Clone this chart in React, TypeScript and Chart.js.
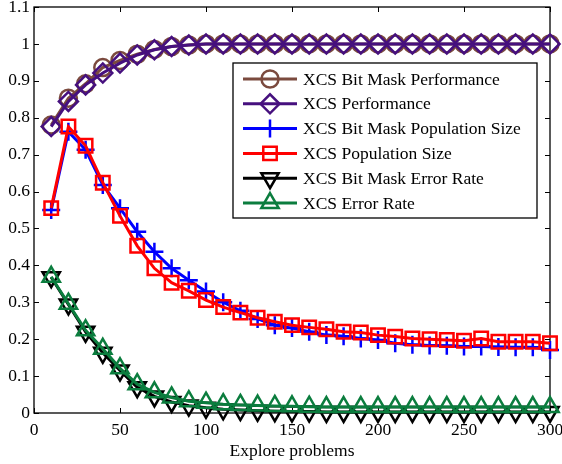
import { useEffect, useRef } from "react";
import { Chart, registerables } from "chart.js";

Chart.register(...registerables);

// Explore problems (x) at which each run was sampled
const explore = [
  10, 20, 30, 40, 50, 60, 70, 80, 90, 100,
  110, 120, 130, 140, 150, 160, 170, 180, 190, 200,
  210, 220, 230, 240, 250, 260, 270, 280, 290, 300,
];

const bmPerformance = [
  0.78, 0.853, 0.892, 0.936, 0.955, 0.972, 0.985, 0.993, 0.997, 1.0,
  1.0, 1.0, 1.0, 1.0, 1.0, 1.0, 1.0, 1.0, 1.0, 1.0,
  1.0, 1.0, 1.0, 1.0, 1.0, 1.0, 1.0, 1.0, 1.0, 1.0,
];

const xcsPerformance = [
  0.776, 0.844, 0.889, 0.921, 0.948, 0.97, 0.984, 0.993, 0.997, 1.0,
  1.0, 1.0, 1.0, 1.0, 1.0, 1.0, 1.0, 1.0, 1.0, 1.0,
  1.0, 1.0, 1.0, 1.0, 1.0, 1.0, 1.0, 1.0, 1.0, 1.0,
];

const bmPopulation = [
  0.55, 0.762, 0.713, 0.618, 0.555, 0.491, 0.437, 0.392, 0.36, 0.329,
  0.3, 0.277, 0.255, 0.238, 0.23, 0.22, 0.211, 0.208, 0.202, 0.198,
  0.189, 0.185, 0.183, 0.182, 0.18, 0.18, 0.179, 0.178, 0.178, 0.171,
];

const xcsPopulation = [
  0.555, 0.776, 0.724, 0.624, 0.534, 0.453, 0.392, 0.353, 0.331, 0.306,
  0.287, 0.272, 0.258, 0.247, 0.238, 0.232, 0.227, 0.22, 0.218, 0.211,
  0.207, 0.202, 0.2, 0.198, 0.196, 0.202, 0.193, 0.193, 0.193, 0.189,
];

const bmError = [
  0.368, 0.294, 0.22, 0.163, 0.115, 0.07, 0.045, 0.03, 0.02, 0.014,
  0.01, 0.008, 0.006, 0.005, 0.004, 0.004, 0.003, 0.003, 0.003, 0.003,
  0.003, 0.003, 0.003, 0.003, 0.003, 0.003, 0.003, 0.003, 0.003, 0.003,
];

const xcsError = [
  0.369, 0.296, 0.224, 0.174, 0.121, 0.078, 0.056, 0.042, 0.032, 0.028,
  0.024, 0.022, 0.02, 0.019, 0.018, 0.017, 0.016, 0.016, 0.016, 0.016,
  0.016, 0.016, 0.016, 0.016, 0.016, 0.016, 0.016, 0.016, 0.016, 0.016,
];

const seriesLabels = [
  "XCS Bit Mask Performance",
  "XCS Performance",
  "XCS Bit Mask Population Size",
  "XCS Population Size",
  "XCS Bit Mask Error Rate",
  "XCS Error Rate",
];

const xTicks = [0, 50, 100, 150, 200, 250, 300];
const yTicks = [0, 0.1, 0.2, 0.3, 0.4, 0.5, 0.6, 0.7, 0.8, 0.9, 1, 1.1];
const xTitle = "Explore problems";

const FONT_FAMILY = '"Liberation Serif", "Times New Roman", serif';
const FONT_SIZE = 17.5;

type MarkerStyle = {
  color: string;
  pointStyle: "circle" | "rectRot" | "cross" | "rect" | "triangle";
  radius: number;
  rotation: number;
};

const markerStyles: MarkerStyle[] = [
  { color: "#7b4a3e", pointStyle: "circle", radius: 8.5, rotation: 0 },
  { color: "#46107e", pointStyle: "rectRot", radius: 9.5, rotation: 0 },
  { color: "#0000ff", pointStyle: "cross", radius: 9, rotation: 0 },
  { color: "#ff0000", pointStyle: "rect", radius: 9.5, rotation: 0 },
  { color: "#000000", pointStyle: "triangle", radius: 10, rotation: 180 },
  { color: "#0b7d3e", pointStyle: "triangle", radius: 10, rotation: 0 },
];

const seriesValues = [
  bmPerformance,
  xcsPerformance,
  bmPopulation,
  xcsPopulation,
  bmError,
  xcsError,
];

// Same geometry Chart.js uses for its point styles, for the legend swatches
function drawMarker(
  ctx: CanvasRenderingContext2D,
  m: MarkerStyle,
  x: number,
  y: number
) {
  const r = m.radius;
  let rad = (m.rotation * Math.PI) / 180;
  ctx.beginPath();
  switch (m.pointStyle) {
    case "circle":
      ctx.arc(x, y, r, 0, Math.PI * 2);
      ctx.closePath();
      break;
    case "rectRot":
      ctx.moveTo(x - r, y);
      ctx.lineTo(x, y - r);
      ctx.lineTo(x + r, y);
      ctx.lineTo(x, y + r);
      ctx.closePath();
      break;
    case "cross":
      ctx.moveTo(x, y - r);
      ctx.lineTo(x, y + r);
      ctx.moveTo(x - r, y);
      ctx.lineTo(x + r, y);
      break;
    case "rect": {
      const s = r * Math.SQRT1_2;
      ctx.rect(x - s, y - s, 2 * s, 2 * s);
      break;
    }
    case "triangle":
      ctx.moveTo(x + Math.sin(rad) * r, y - Math.cos(rad) * r);
      rad += (2 * Math.PI) / 3;
      ctx.lineTo(x + Math.sin(rad) * r, y - Math.cos(rad) * r);
      rad += (2 * Math.PI) / 3;
      ctx.lineTo(x + Math.sin(rad) * r, y - Math.cos(rad) * r);
      ctx.closePath();
      break;
  }
  ctx.stroke();
}

// Axes box with inward-pointing tick marks on all four sides
const framePlugin = {
  id: "frame",
  beforeDatasetsDraw(chart: any) {
    const { ctx, chartArea: a, scales } = chart;
    const x = scales.x;
    const y = scales.y;
    ctx.save();
    ctx.strokeStyle = "#000";
    ctx.lineWidth = 1.3;
    ctx.strokeRect(a.left, a.top, a.right - a.left, a.bottom - a.top);
    ctx.lineWidth = 1;
    ctx.beginPath();
    const len = 5;
    for (const t of xTicks) {
      const px = Math.round(x.getPixelForValue(t)) + 0.5;
      ctx.moveTo(px, a.bottom);
      ctx.lineTo(px, a.bottom - len);
      ctx.moveTo(px, a.top);
      ctx.lineTo(px, a.top + len);
    }
    for (const t of yTicks) {
      const py = Math.round(y.getPixelForValue(t)) + 0.5;
      ctx.moveTo(a.left, py);
      ctx.lineTo(a.left + len, py);
      ctx.moveTo(a.right, py);
      ctx.lineTo(a.right - len, py);
    }
    ctx.stroke();
    ctx.restore();
  },
};

// Boxed legend inside the upper-right of the plot
const boxLegendPlugin = {
  id: "boxLegend",
  afterDatasetsDraw(chart: any) {
    const { ctx } = chart;
    const box = { left: 233, top: 63, right: 537, bottom: 218 };
    const firstRow = 79;
    const rowGap = 24.8;
    const lineStart = 243;
    const lineEnd = 297;
    const textX = 303;
    ctx.save();
    ctx.fillStyle = "#fff";
    ctx.fillRect(box.left, box.top, box.right - box.left, box.bottom - box.top);
    ctx.strokeStyle = "#000";
    ctx.lineWidth = 1.3;
    ctx.strokeRect(box.left, box.top, box.right - box.left, box.bottom - box.top);
    ctx.font = `${FONT_SIZE}px ${FONT_FAMILY}`;
    ctx.textBaseline = "middle";
    ctx.textAlign = "left";
    seriesLabels.forEach((label, i) => {
      const m = markerStyles[i];
      const yy = firstRow + i * rowGap;
      ctx.strokeStyle = m.color;
      ctx.lineWidth = 3;
      ctx.beginPath();
      ctx.moveTo(lineStart, yy);
      ctx.lineTo(lineEnd, yy);
      ctx.stroke();
      ctx.lineWidth = 2.5;
      drawMarker(ctx, m, (lineStart + lineEnd) / 2, yy);
      ctx.fillStyle = "#000";
      ctx.fillText(label, textX, yy + 1);
    });
    ctx.restore();
  },
};

export default function App() {
  const canvasRef = useRef<HTMLCanvasElement | null>(null);

  useEffect(() => {
    const canvas = canvasRef.current;
    if (!canvas) return;

    const datasets = seriesLabels.map((label, i) => {
      const m = markerStyles[i];
      return {
        label,
        data: seriesValues[i].map((v, j) => ({ x: explore[j], y: v })),
        borderColor: m.color,
        backgroundColor: "rgba(0,0,0,0)",
        borderWidth: 3,
        tension: 0,
        pointStyle: m.pointStyle,
        pointRadius: m.radius,
        pointRotation: m.rotation,
        pointBorderWidth: 2.5,
        pointBorderColor: m.color,
        pointBackgroundColor: "rgba(0,0,0,0)",
        clip: false as const,
        // later series are painted over earlier ones
        order: seriesLabels.length - i,
      };
    });

    const tickFont = { family: FONT_FAMILY, size: FONT_SIZE };

    const chart = new Chart(canvas, {
      type: "line",
      data: { datasets },
      plugins: [framePlugin, boxLegendPlugin],
      options: {
        animation: false,
        responsive: false,
        layout: {
          autoPadding: false,
          padding: { top: 7, right: 12, left: 0, bottom: 0 },
        },
        plugins: {
          legend: { display: false },
          tooltip: { enabled: false },
        },
        scales: {
          x: {
            type: "linear",
            min: 0,
            max: 300,
            grid: { display: false, drawTicks: false },
            border: { display: false },
            afterBuildTicks: (scale: any) => {
              scale.ticks = xTicks.map((v) => ({ value: v }));
            },
            afterFit: (scale: any) => {
              scale.height = 51;
              scale.paddingLeft = 0;
              scale.paddingRight = 0;
            },
            ticks: {
              color: "#000",
              font: tickFont,
              padding: 7,
              maxRotation: 0,
              autoSkip: false,
              callback: (v: any) => String(v),
            },
            title: {
              display: true,
              text: xTitle,
              color: "#000",
              font: tickFont,
              padding: { top: 0, bottom: 2 },
            },
          },
          y: {
            type: "linear",
            min: 0,
            max: 1.1,
            grid: { display: false, drawTicks: false },
            border: { display: false },
            afterBuildTicks: (scale: any) => {
              scale.ticks = yTicks.map((v) => ({ value: v }));
            },
            afterFit: (scale: any) => {
              scale.width = 34;
              scale.paddingTop = 0;
              scale.paddingBottom = 0;
            },
            ticks: {
              color: "#000",
              font: tickFont,
              padding: 4,
              autoSkip: false,
              callback: (v: any) => String(Math.round(Number(v) * 10) / 10),
            },
          },
        },
      },
    });

    return () => chart.destroy();
  }, []);

  return (
    <div style={{ position: "absolute", left: 0, top: 0, width: 562, height: 464, background: "#fff" }}>
      <canvas ref={canvasRef} width={562} height={464} style={{ display: "block" }} />
    </div>
  );
}
